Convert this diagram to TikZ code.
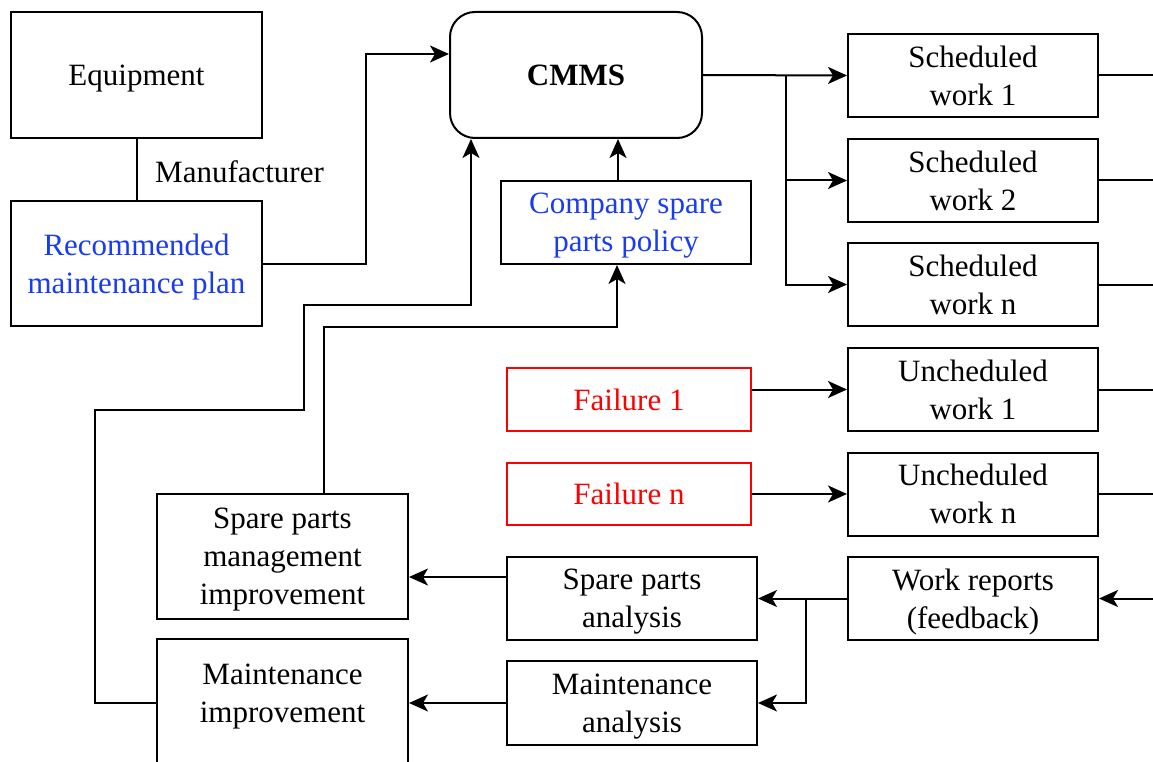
\documentclass[tikz,border=0pt]{standalone}
\usepackage{fontspec}
\setmainfont{Liberation Serif}
\usetikzlibrary{arrows.meta}
\definecolor{pblue}{RGB}{25,60,240}
\definecolor{pred}{RGB}{255,0,0}
\begin{document}
\begin{tikzpicture}[x=1pt,y=-1pt,
  every node/.style={font=\fontsize{31}{38}\selectfont, align=center, inner sep=0pt, text depth=0pt},
  box/.style={draw, line width=2pt, minimum width=251pt, minimum height=83pt},
  fbox/.style={draw=pred, line width=1.6pt, text=pred, minimum width=244pt, minimum height=62pt},
  con/.style={line width=2pt},
  arr/.style={line width=2pt, -{Stealth[length=19pt,width=17pt,inset=5pt]}}
]
\useasboundingbox (0,0) rectangle (1153,762);
\clip (0,0) rectangle (1153,762);
% nodes
\node[box, minimum height=126pt] (equip) at (136.5,75) {Equipment};
\node[box, minimum height=125pt, text=pblue] (rec) at (136.5,263.5) {Recommended\\maintenance plan};
\node[anchor=west] (manu) at (155,172) {Manufacturer};
\node[box, minimum width=252pt, minimum height=126pt, rounded corners=25pt, font=\fontsize{31}{38}\selectfont\bfseries] (cmms) at (576,75) {CMMS};
\node[box, minimum width=250pt, text=pblue] (comp) at (626,222.5) {Company spare\\parts policy};
\node[box, minimum width=250pt] (s1) at (973,75.5) {Scheduled\\work 1};
\node[box, minimum width=250pt] (s2) at (973,180.5) {Scheduled\\work 2};
\node[box, minimum width=250pt] (sn) at (973,284.5) {Scheduled\\work n};
\node[box, minimum width=250pt] (u1) at (973,389.5) {Uncheduled\\work 1};
\node[box, minimum width=250pt] (un) at (973,494) {Uncheduled\\work n};
\node[box, minimum width=250pt] (wr) at (973,598.5) {Work reports\\(feedback)};
\node[fbox, minimum height=63pt] (f1) at (629,399.5) {Failure 1};
\node[fbox] (fn) at (629,494) {Failure n};
\node[box, minimum width=250pt] (spa) at (632,598.5) {Spare parts\\analysis};
\node[box, minimum width=250pt, minimum height=84pt] (ma) at (632,703) {Maintenance\\analysis};
\node[box, minimum height=125pt] (spmi) at (282.5,556.5) {Spare parts\\management\\improvement};
\node[box, minimum height=146pt] (mi) at (282.5,712) {Maintenance\\improvement\\\mbox{}};
% helper coordinates
\coordinate (xr) at (1153,0);
\coordinate (xa) at (366,54);
\coordinate (xc) at (618,0);
\coordinate (xb) at (786,0);
\coordinate (xw) at (806,0);
\coordinate (y577) at (0,577);
\coordinate (m1) at (95,703);
\coordinate (m2) at (95,410);
\coordinate (m3) at (304,410);
\coordinate (m4) at (304,305);
\coordinate (m5) at (471,305);
\coordinate (p1) at (324,327);
\coordinate (p2) at (617,327);
% connectors
\draw[con] (equip.south) -- (rec.north);
\draw[arr] (rec.east) -| (xa) -- (cmms.west |- xa);
\draw[arr] (comp.north -| xc) -- (cmms.south -| xc);
\draw[arr] (cmms.east) -- (s1.west);
\draw[arr] (cmms.east -| xb) |- (s2.west);
\draw[arr] (cmms.east -| xb) |- (sn.west);
\draw[con] (s1.east) -- (s1.east -| xr);
\draw[con] (s2.east) -- (s2.east -| xr);
\draw[con] (sn.east) -- (sn.east -| xr);
\draw[con] (u1.east) -- (u1.east -| xr);
\draw[con] (un.east) -- (un.east -| xr);
\draw[arr] (wr.east -| xr) -- (wr.east);
\draw[arr] (f1.east |- u1.west) -- (u1.west);
\draw[arr] (fn.east) -- (un.west);
\draw[arr] (wr.west) -- (spa.east);
\draw[arr] (wr.west -| xw) |- (ma.east);
\draw[arr] (spa.west |- y577) -- (spmi.east |- y577);
\draw[arr] (ma.west) -- (mi.east |- ma.west);
\draw[arr] (mi.west |- ma.west) -- (m1) -- (m2) -- (m3) -- (m4) -- (m5) -- (cmms.south -| m5);
\draw[arr] (spmi.north -| p1) -- (p1) -- (p2) -- (comp.south -| p2);
\end{tikzpicture}
\end{document}
